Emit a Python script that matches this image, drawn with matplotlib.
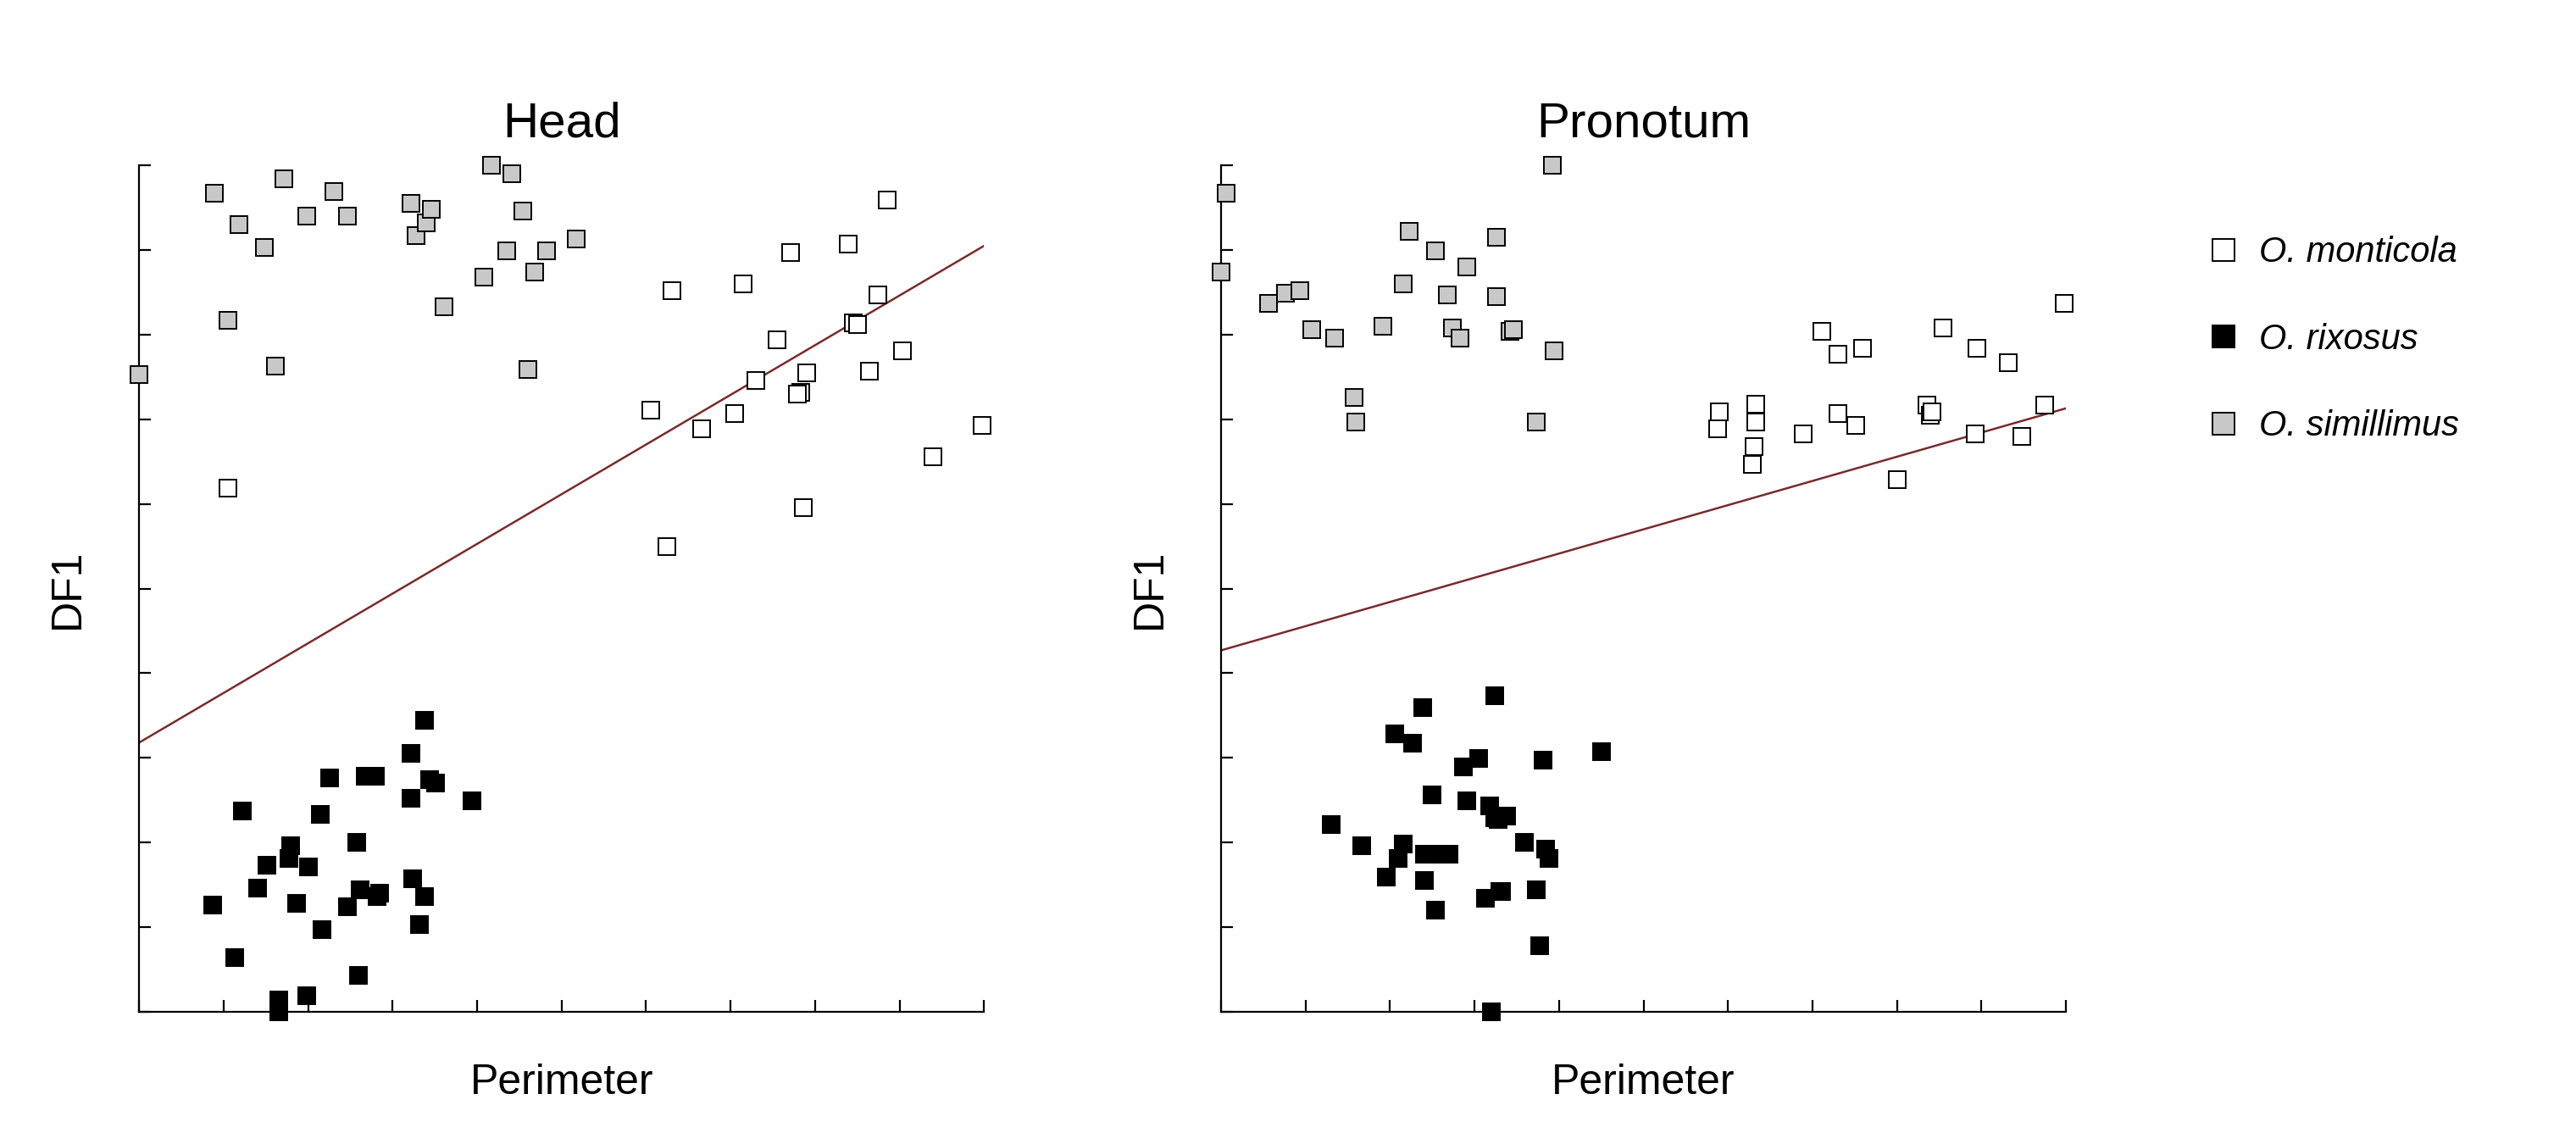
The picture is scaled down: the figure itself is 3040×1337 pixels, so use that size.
import matplotlib
matplotlib.use("Agg")
import matplotlib.pyplot as plt
import numpy as np

plt.rcParams['font.family'] = ['Arial', 'Liberation Sans', 'DejaVu Sans']

# Head panel
head_mont_x = [1.05, 6.31, 7.15, 7.71, 8.39, 8.85, 8.74, 8.45, 7.55, 7.30, 7.05, 6.66, 6.06, 6.25, 7.83, 7.90, 7.79, 7.86, 8.64, 9.03, 9.40, 9.98, 8.50]
head_mont_y = [6.19, 8.52, 8.60, 8.97, 9.07, 9.59, 8.47, 8.14, 7.94, 7.46, 7.07, 6.89, 7.11, 5.50, 7.32, 7.55, 7.30, 5.96, 7.57, 7.81, 6.56, 6.93, 8.12]
head_sim_x = [0.0, 0.89, 1.18, 1.71, 1.98, 2.31, 2.47, 1.48, 1.05, 1.61, 3.22, 3.28, 3.40, 3.46, 3.61, 4.17, 4.41, 4.54, 4.35, 4.08, 4.82, 5.17, 4.68, 4.60]
head_sim_y = [7.53, 9.67, 9.30, 9.84, 9.40, 9.69, 9.40, 9.03, 8.17, 7.63, 9.55, 9.17, 9.32, 9.48, 8.33, 10.0, 9.90, 9.46, 8.99, 8.68, 8.99, 9.13, 8.74, 7.59]
head_rix_x = [0.87, 1.13, 1.22, 1.40, 1.51, 1.65, 1.65, 1.77, 1.79, 1.86, 2.00, 1.98, 2.14, 2.16, 2.25, 2.47, 2.58, 2.62, 2.60, 2.68, 2.80, 2.82, 2.85, 3.22, 3.22, 3.24, 3.32, 3.38, 3.38, 3.44, 3.51, 3.94]
head_rix_y = [1.26, 0.64, 2.37, 1.46, 1.73, 0.0, 0.14, 1.81, 1.96, 1.28, 1.71, 0.19, 2.33, 0.97, 2.76, 1.24, 2.00, 1.44, 0.43, 2.78, 2.78, 1.36, 1.40, 3.05, 2.52, 1.57, 1.03, 1.36, 3.44, 2.74, 2.70, 2.49]
head_line = [3.18, 9.05]

# Pronotum panel
pron_mont_x = [5.88, 5.90, 6.33, 6.33, 6.31, 6.29, 6.89, 7.11, 7.30, 7.30, 7.51, 7.59, 8.00, 8.35, 8.39, 8.41, 8.54, 8.93, 8.95, 9.32, 9.48, 9.75, 9.98]
pron_mont_y = [6.89, 7.09, 7.18, 6.97, 6.68, 6.47, 6.83, 8.04, 7.77, 7.07, 6.93, 7.84, 6.29, 7.17, 7.05, 7.09, 8.08, 6.83, 7.84, 7.67, 6.80, 7.17, 8.37]
pron_sim_x = [0.06, 0.0, 0.56, 0.76, 0.93, 1.07, 1.34, 1.57, 1.59, 1.92, 2.16, 2.23, 2.54, 2.68, 2.74, 2.83, 2.91, 3.26, 3.26, 3.42, 3.46, 3.73, 3.92, 3.94]
pron_sim_y = [9.67, 8.74, 8.37, 8.49, 8.52, 8.06, 7.96, 7.26, 6.97, 8.10, 8.60, 9.22, 8.99, 8.47, 8.08, 7.96, 8.80, 9.15, 8.45, 8.04, 8.06, 6.97, 10.0, 7.81]
pron_rix_x = [1.30, 1.67, 1.96, 2.06, 2.10, 2.16, 2.27, 2.39, 2.41, 2.41, 2.50, 2.54, 2.54, 2.70, 2.87, 2.91, 3.05, 3.13, 3.18, 3.20, 3.24, 3.24, 3.28, 3.30, 3.32, 3.38, 3.59, 3.73, 3.77, 3.81, 3.84, 3.88, 4.50]
pron_rix_y = [2.21, 1.96, 1.59, 3.28, 1.81, 1.98, 3.17, 3.59, 1.86, 1.55, 2.56, 1.20, 1.86, 1.86, 2.89, 2.49, 2.99, 1.34, 2.43, 0.0, 3.73, 2.29, 2.27, 1.42, 1.42, 2.31, 2.00, 1.44, 0.78, 2.97, 1.92, 1.81, 3.07]
pron_line = [4.27, 7.13]

species = ["O. monticola", "O. rixosus", "O. simillimus"]
colors = ["white", "black", "#c8c8c8"]

fig = plt.figure(figsize=(15.2, 6.685), dpi=200)
ax1 = fig.add_axes([0.054, 0.107, 0.328, 0.747])
ax2 = fig.add_axes([0.474, 0.107, 0.328, 0.747])

panels = [
    (ax1, "Head", [(head_mont_x, head_mont_y), (head_rix_x, head_rix_y), (head_sim_x, head_sim_y)], head_line),
    (ax2, "Pronotum", [(pron_mont_x, pron_mont_y), (pron_rix_x, pron_rix_y), (pron_sim_x, pron_sim_y)], pron_line),
]

for ax, title, groups, line in panels:
    for (xs, ys), c, name in zip(groups, colors, species):
        ax.plot(xs, ys, 's', ms=7, mfc=c, mec='black', mew=0.7, label=name, clip_on=False, zorder=3)
    ax.plot([0, 10], line, color='#7a2a2a', lw=0.9, zorder=2)
    ax.set_xlim(0, 10)
    ax.set_ylim(0, 10)
    ax.set_xticks(np.arange(11))
    ax.set_yticks(np.arange(11))
    ax.tick_params(direction='in', length=5, labelbottom=False, labelleft=False, width=0.8)
    for s in ['top', 'right']:
        ax.spines[s].set_visible(False)
    ax.set_title(title, fontsize=21, pad=12)
    ax.set_xlabel("Perimeter", fontsize=18, labelpad=22)
    ax.set_ylabel("DF1", fontsize=18, labelpad=22)

handles, labels = ax2.get_legend_handles_labels()
leg = fig.legend(handles, labels, loc='upper left', bbox_to_anchor=(0.84, 0.82), frameon=False,
                 prop={'style': 'italic', 'size': 15}, labelspacing=1.5, handletextpad=0.2,
                 handlelength=1.6, markerscale=1.3)
fig.savefig("out.png", dpi=200)
